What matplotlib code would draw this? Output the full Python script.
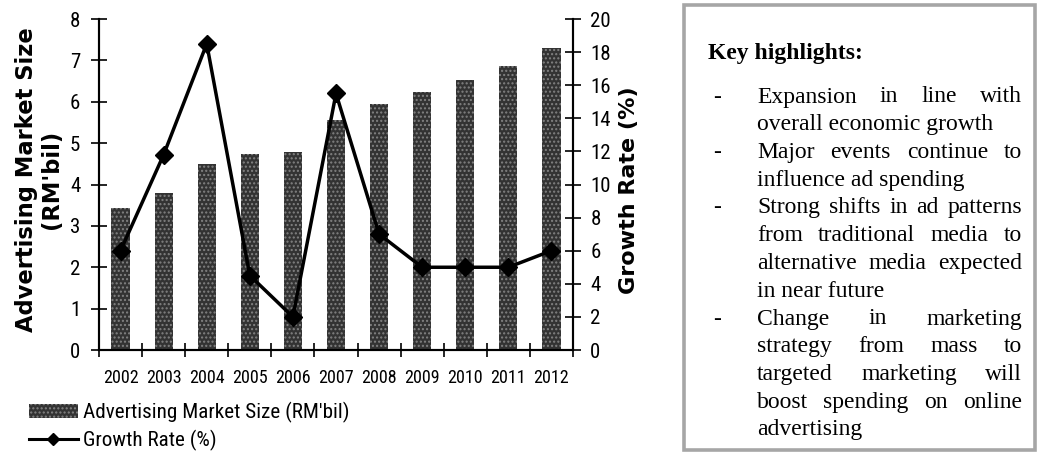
import numpy as np
import matplotlib
matplotlib.use('Agg')
import matplotlib.pyplot as plt
from matplotlib.patches import Rectangle
from matplotlib.lines import Line2D

# Chart data
years = ['2002', '2003', '2004', '2005', '2006', '2007', '2008', '2009', '2010', '2011', '2012']
market_size = [3.43, 3.79, 4.49, 4.73, 4.78, 5.56, 5.94, 6.23, 6.52, 6.86, 7.29]
growth_rate = [6.0, 11.8, 18.5, 4.5, 2.0, 15.5, 7.0, 5.0, 5.0, 5.0, 6.0]

bar_label = "Advertising Market Size (RM'bil)"
line_label = "Growth Rate (%)"

# Key highlights box: paragraphs split into lines as printed
title = "Key highlights:"
paragraphs = [
    ["Expansion in line with", "overall economic growth"],
    ["Major events continue to", "influence ad spending"],
    ["Strong shifts in ad patterns", "from traditional media to",
     "alternative media expected", "in near future"],
    ["Change in marketing", "strategy from mass to", "targeted marketing will",
     "boost spending on online", "advertising"],
]

narrow = ['Liberation Sans Narrow', 'Arial Narrow', 'Roboto Condensed', 'DejaVu Sans']
serif = ['Liberation Serif', 'Tinos', 'Times New Roman', 'STIXGeneral', 'DejaVu Serif']
W, H = 1041, 455

fig = plt.figure(figsize=(W / 100, H / 100), dpi=100)
ax = fig.add_axes([99 / W, 1 - 350 / H, (573 - 99) / W, (350 - 19) / H])
ax2 = ax.twinx()

bar_face, bar_dots = '#333333', '#828282'
x = np.arange(len(years))
ax.bar(x, market_size, width=0.42, color=bar_face, edgecolor=bar_dots,
       hatch='....', linewidth=0, zorder=1)
ax2.plot(x, growth_rate, color='black', lw=2.5, marker='D', ms=9, zorder=3)

ax.set_xlim(-0.5, len(years) - 0.5)
ax.set_ylim(0, 8)
ax2.set_ylim(0, 20)
ax.set_yticks(range(0, 9))
ax2.set_yticks(range(0, 21, 2))

# year labels centred on bars, tick marks between categories
ax.set_xticks(x)
ax.set_xticklabels(years, family=narrow, fontsize=13)
ax.set_xticks(np.arange(-0.5, len(years), 1), minor=True)
ax.tick_params(axis='x', which='major', length=0, pad=14)
ax.tick_params(axis='x', which='minor', direction='inout', length=10, width=1.2)
ax.tick_params(axis='y', direction='inout', length=11, width=1.2, pad=8, labelsize=15)
ax2.tick_params(axis='y', direction='inout', length=11, width=1.2, pad=7, labelsize=15)
for lab in ax.get_yticklabels() + ax2.get_yticklabels():
    lab.set_family(narrow)

for a in (ax, ax2):
    a.spines['top'].set_visible(False)
    for s in ('left', 'right', 'bottom'):
        a.spines[s].set_linewidth(1.5)

ax.set_ylabel("Advertising Market Size\n(RM'bil)", fontsize=16.3, fontweight='bold',
              family='DejaVu Sans', linespacing=1.12)
ax.yaxis.set_label_coords(-0.075, 0.514)
ax2.set_ylabel(line_label, fontsize=16, fontweight='bold', family='DejaVu Sans')
ax2.yaxis.set_label_coords(1.097, 0.483)

handles = [Rectangle((0, 0), 1, 1, facecolor=bar_face, edgecolor=bar_dots, hatch='....', lw=0),
           Line2D([], [], color='black', lw=2.2, marker='D', ms=6)]
fig.legend(handles, [bar_label, line_label], loc='upper left',
           bbox_to_anchor=(29 / W, 1 - 402 / H), frameon=False, borderaxespad=0,
           prop={'family': narrow, 'size': 15.2}, handlelength=2.3,
           handletextpad=0.24, labelspacing=0.33, borderpad=0)

# highlights box
fig.patches.append(Rectangle((684 / W, 1 - 450 / H), (1035 - 684) / W, (450 - 5) / H,
                             transform=fig.transFigure, fill=False,
                             edgecolor='#a6a6a6', lw=2.6))
fs = 17
fig.text(708 / W, 1 - 53 / H, title, family=serif, fontsize=fs,
         fontweight='bold', va='center', ha='left')

fig.canvas.draw()
r = fig.canvas.get_renderer()
tx0, tx1 = 757, 1022
y = 97
step = 27.75
for para in paragraphs:
    fig.text(713 / W, 1 - y / H, '-', family=serif, fontsize=fs, va='center')
    for i, line in enumerate(para):
        words = line.split()
        last = i == len(para) - 1
        if last or len(words) == 1:
            fig.text(tx0 / W, 1 - y / H, line, family=serif, fontsize=fs, va='center')
        else:
            ts = [fig.text(0, 1 - y / H, w, family=serif, fontsize=fs, va='center') for w in words]
            ws = [t.get_window_extent(r).width for t in ts]
            gap = (tx1 - tx0 - sum(ws)) / (len(words) - 1)
            pos = tx0
            for t, w in zip(ts, ws):
                t.set_x(pos / W)
                pos += w + gap
        y += step

fig.savefig('out.png', dpi=100)
